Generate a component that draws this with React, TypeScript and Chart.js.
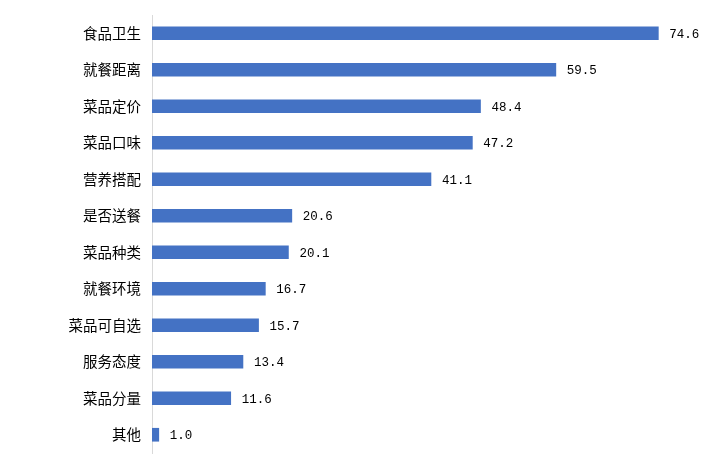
import React, { useEffect, useRef } from "react";
import { Chart, registerables } from "chart.js";

Chart.register(...registerables);

const categories = ["食品卫生", "就餐距离", "菜品定价", "菜品口味", "营养搭配", "是否送餐", "菜品种类", "就餐环境", "菜品可自选", "服务态度", "菜品分量", "其他"];
const values = [74.6, 59.5, 48.4, 47.2, 41.1, 20.6, 20.1, 16.7, 15.7, 13.4, 11.6, 1.0];
const xMax = 80;

const valueLabels = {
  id: "valueLabels",
  afterDatasetsDraw(chart: any) {
    const ctx = chart.ctx;
    const meta = chart.getDatasetMeta(0);
    ctx.save();
    ctx.fillStyle = "#000000";
    ctx.font = '12.5px "Liberation Mono", "DejaVu Sans Mono", monospace';
    ctx.textAlign = "left";
    ctx.textBaseline = "middle";
    meta.data.forEach((bar: any, i: number) => {
      ctx.fillText(values[i].toFixed(1), bar.x + 11, bar.y + 1);
    });
    ctx.restore();
  },
};

export default function App() {
  const ref = useRef<HTMLCanvasElement>(null);
  useEffect(() => {
    document.body.style.margin = "0";
    const chart = new Chart(ref.current!, {
      type: "bar",
      data: {
        labels: categories,
        datasets: [
          {
            data: values,
            backgroundColor: "#4472C4",
            borderWidth: 0,
            barThickness: 13,
          },
        ],
      },
      options: {
        indexAxis: "y",
        animation: false,
        responsive: false,
        layout: { padding: { left: 0, right: 26, top: 15, bottom: 12 } },
        plugins: { legend: { display: false }, tooltip: { enabled: false } },
        scales: {
          x: { display: false, min: 0, max: xMax },
          y: {
            afterFit: (scale: any) => {
              scale.width = 152;
              scale.paddingTop = 0;
              scale.paddingBottom = 0;
            },
            grid: { display: false, drawTicks: false },
            border: { display: true, color: "#d9d9d9", width: 1 },
            ticks: {
              padding: 11,
              color: "#000000",
              font: { family: '"Noto Sans CJK SC", sans-serif', size: 14.5 },
            },
          },
        },
      },
      plugins: [valueLabels],
    });
    return () => chart.destroy();
  }, []);
  return <canvas ref={ref} width={721} height={465} style={{ display: "block" }} />;
}
